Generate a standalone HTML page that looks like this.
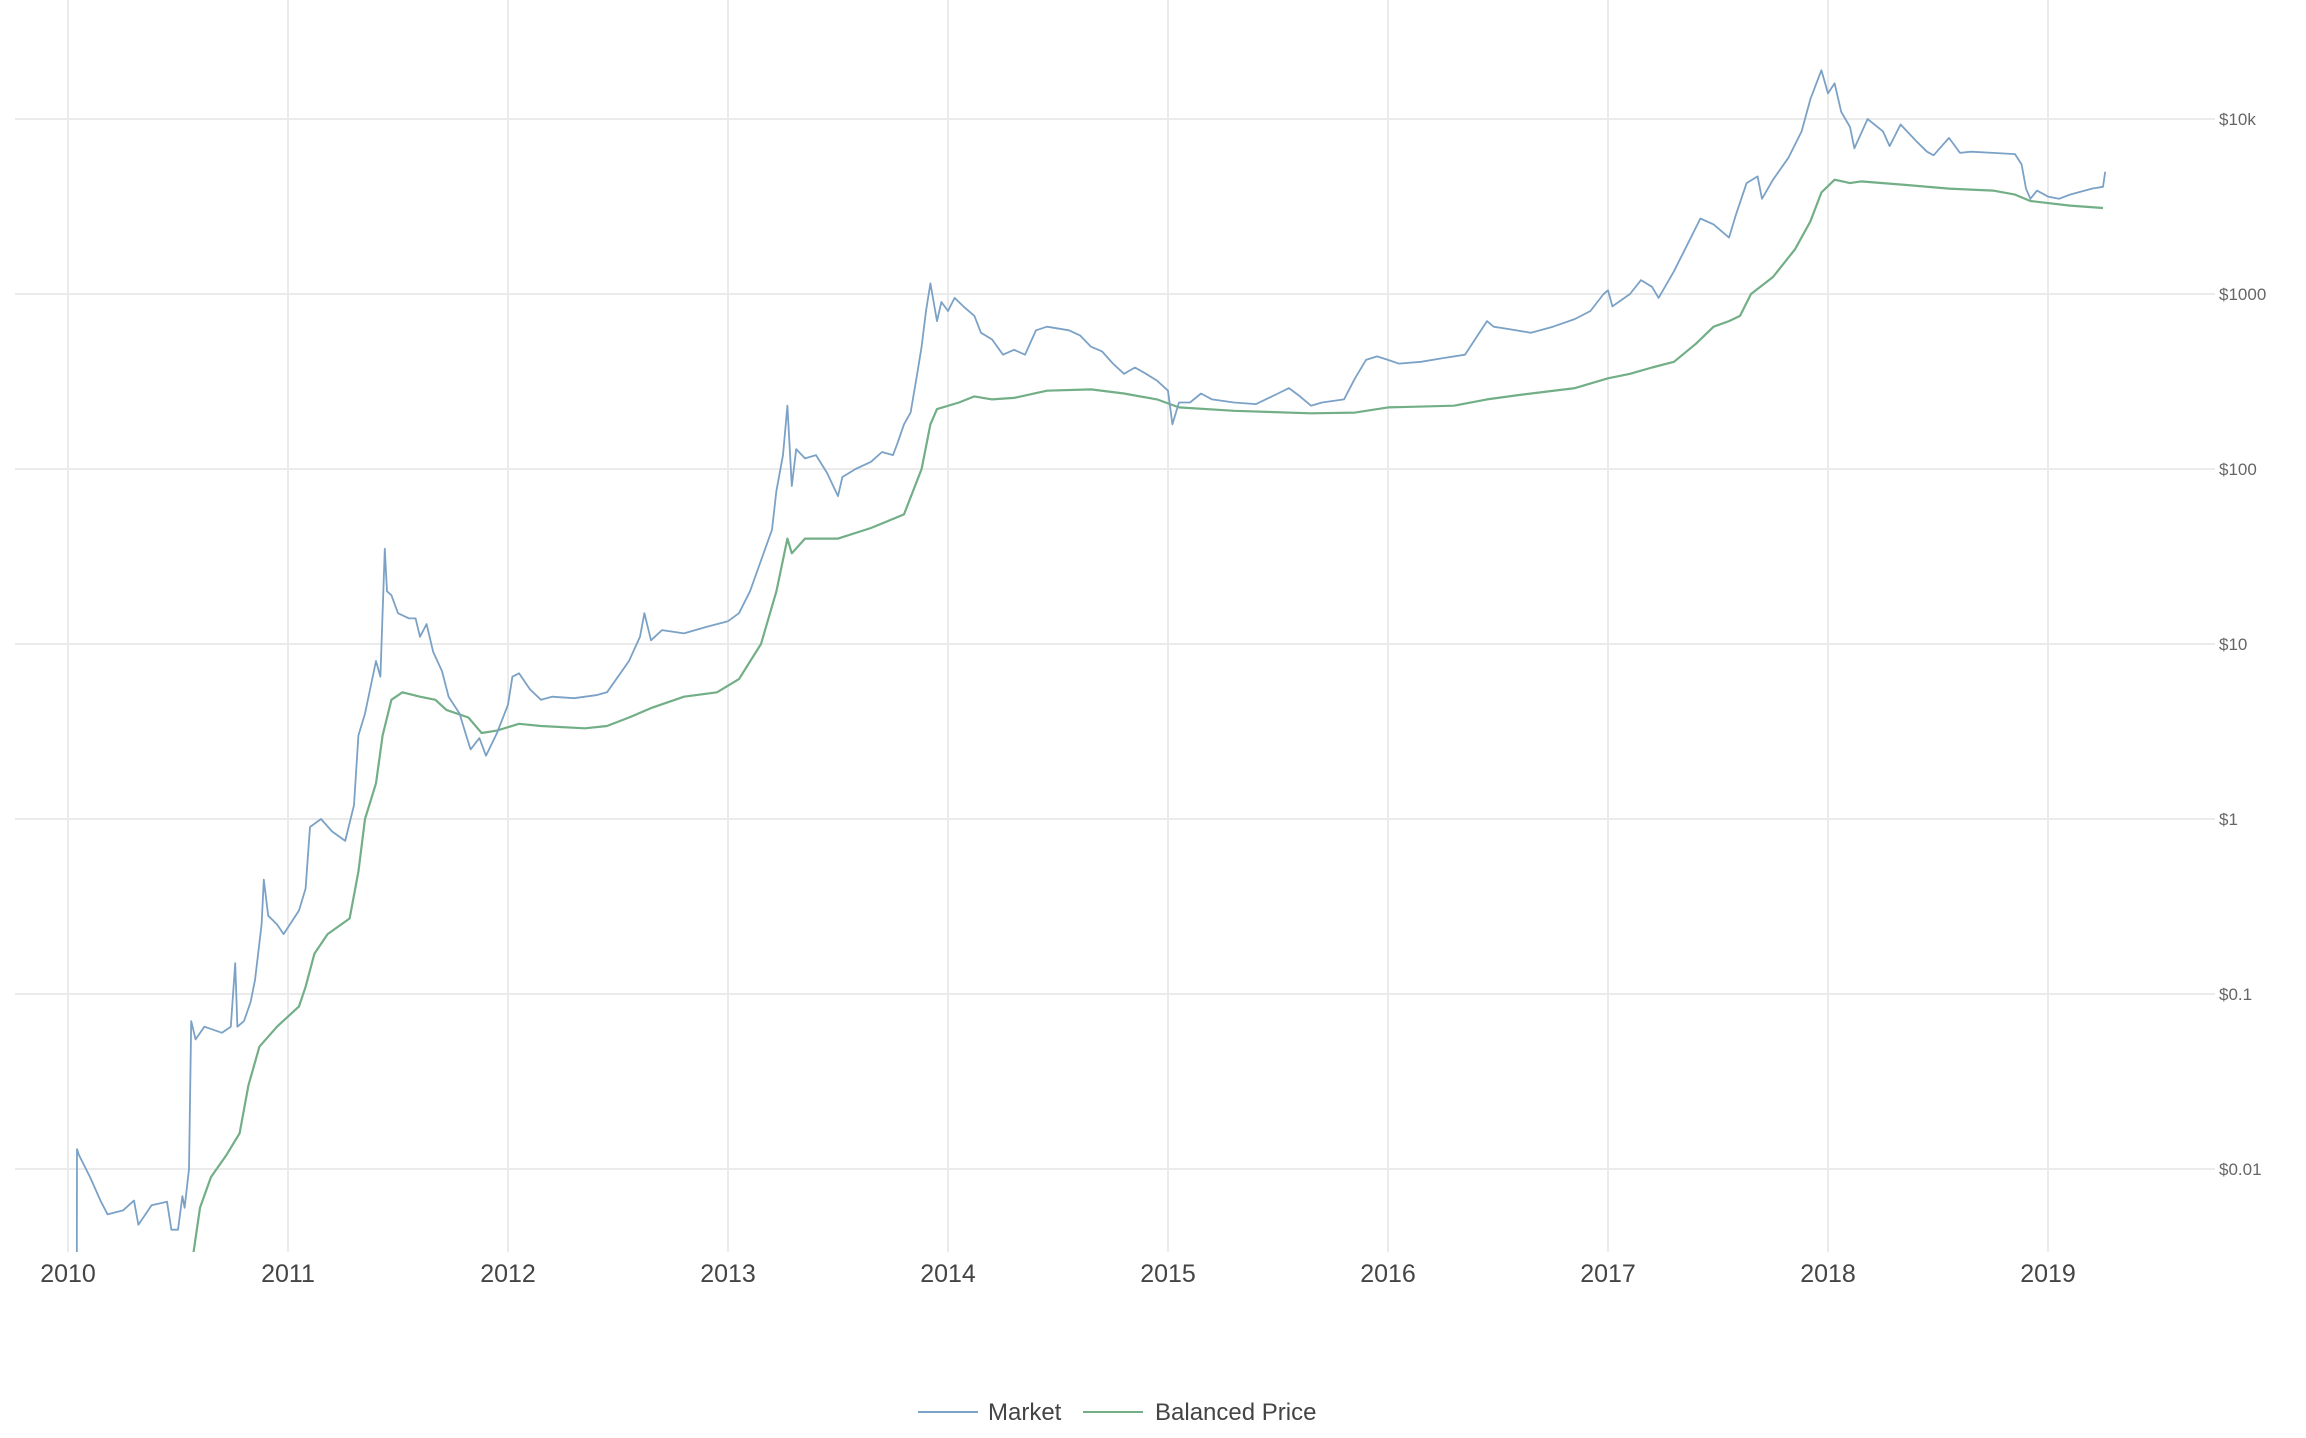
<!DOCTYPE html>
<html><head><meta charset="utf-8"><style>
html,body{margin:0;padding:0;background:#fff;width:2306px;height:1438px;overflow:hidden}
svg{display:block}
</style></head><body>
<svg id="chart" width="2306" height="1438" xmlns="http://www.w3.org/2000/svg">
<defs><clipPath id="plotclip"><rect x="0" y="0" width="2215" height="1252"/></clipPath></defs>
<g id="grid"></g>
<g id="series" clip-path="url(#plotclip)"></g>
<g id="xlabels"></g>
<g id="ylabels"></g>
<g font-family="Liberation Sans, sans-serif" font-size="24" fill="#444">
  <g>
    <line x1="918" y1="1412" x2="978" y2="1412" stroke="#7ba2c6" stroke-width="2"/>
    <text x="988" y="1420">Market</text>
  </g>
  <g>
    <line x1="1083" y1="1412" x2="1143" y2="1412" stroke="#72ae86" stroke-width="2"/>
    <text x="1155" y="1420">Balanced Price</text>
  </g>
</g>
</svg>
<script>
const yearTicks = [2010,2011,2012,2013,2014,2015,2016,2017,2018,2019];
const priceTicks = [0.01,0.1,1,10,100,1000,10000];
const priceTickLabels = ["$0.01","$0.1","$1","$10","$100","$1000","$10k"];
const marketDates = [2010.04,2010.041,2010.05,2010.10,2010.15,2010.18,2010.25,2010.30,2010.32,2010.38,2010.45,2010.47,2010.50,2010.52,2010.53,2010.55,2010.56,2010.58,2010.62,2010.70,2010.74,2010.76,2010.77,2010.80,2010.83,2010.85,2010.88,2010.89,2010.91,2010.95,2010.98,2011.05,2011.08,2011.10,2011.15,2011.20,2011.26,2011.30,2011.32,2011.35,2011.40,2011.42,2011.44,2011.45,2011.47,2011.50,2011.55,2011.58,2011.60,2011.63,2011.66,2011.70,2011.73,2011.78,2011.81,2011.83,2011.87,2011.90,2011.95,2012.0,2012.02,2012.05,2012.10,2012.15,2012.20,2012.30,2012.40,2012.45,2012.50,2012.55,2012.60,2012.62,2012.65,2012.70,2012.80,2012.90,2012.95,2013.0,2013.05,2013.1,2013.15,2013.2,2013.22,2013.25,2013.27,2013.29,2013.31,2013.35,2013.40,2013.45,2013.50,2013.52,2013.58,2013.65,2013.70,2013.75,2013.77,2013.80,2013.83,2013.86,2013.88,2013.90,2013.92,2013.95,2013.97,2014.0,2014.03,2014.07,2014.12,2014.15,2014.20,2014.25,2014.30,2014.35,2014.40,2014.45,2014.55,2014.60,2014.65,2014.70,2014.75,2014.80,2014.85,2014.90,2014.95,2015.0,2015.02,2015.05,2015.10,2015.15,2015.20,2015.30,2015.40,2015.50,2015.55,2015.60,2015.65,2015.70,2015.80,2015.85,2015.90,2015.95,2016.0,2016.05,2016.15,2016.25,2016.35,2016.45,2016.48,2016.55,2016.65,2016.75,2016.85,2016.92,2016.98,2017.0,2017.02,2017.10,2017.15,2017.20,2017.23,2017.30,2017.35,2017.42,2017.48,2017.55,2017.58,2017.63,2017.68,2017.70,2017.75,2017.82,2017.88,2017.92,2017.97,2018.0,2018.03,2018.06,2018.10,2018.12,2018.18,2018.25,2018.28,2018.33,2018.40,2018.45,2018.48,2018.55,2018.60,2018.65,2018.75,2018.85,2018.88,2018.90,2018.92,2018.95,2019.0,2019.05,2019.10,2019.20,2019.25,2019.26];
const marketValues = [0.0025,0.013,0.012,0.009,0.0065,0.0055,0.0058,0.0066,0.0048,0.0062,0.0065,0.0045,0.0045,0.007,0.006,0.01,0.07,0.055,0.065,0.06,0.065,0.15,0.065,0.07,0.09,0.12,0.25,0.45,0.28,0.25,0.22,0.3,0.4,0.9,1.0,0.85,0.75,1.2,3,4,8,6.5,35,20,19,15,14,14,11,13,9,7,5,4,3,2.5,2.9,2.3,3.1,4.5,6.5,6.8,5.5,4.8,5,4.9,5.1,5.3,6.5,8,11,15,10.5,12,11.5,12.5,13,13.5,15,20,30,45,75,120,230,80,130,115,120,95,70,90,100,110,125,120,140,180,210,350,500,800,1150,700,900,800,950,850,750,600,550,450,480,450,620,650,620,580,500,470,400,350,380,350,320,280,180,240,240,270,250,240,235,270,290,260,230,240,250,330,420,440,420,400,410,430,450,700,650,630,600,650,720,800,1000,1050,850,1000,1200,1100,950,1350,1800,2700,2500,2100,2800,4300,4700,3500,4500,6000,8500,13000,19000,14000,16000,11000,9000,6800,10000,8500,7000,9300,7500,6500,6200,7800,6400,6500,6400,6300,5500,4000,3500,3900,3600,3500,3700,4000,4100,5000];
const balancedDates = [2010.57,2010.60,2010.65,2010.72,2010.78,2010.82,2010.87,2010.95,2011.05,2011.08,2011.12,2011.18,2011.28,2011.32,2011.35,2011.40,2011.43,2011.47,2011.52,2011.60,2011.67,2011.72,2011.82,2011.88,2011.95,2012.05,2012.15,2012.35,2012.45,2012.55,2012.65,2012.80,2012.95,2013.05,2013.15,2013.22,2013.27,2013.29,2013.35,2013.50,2013.65,2013.80,2013.88,2013.92,2013.95,2014.05,2014.12,2014.20,2014.30,2014.45,2014.65,2014.80,2014.95,2015.05,2015.30,2015.65,2015.85,2016.0,2016.30,2016.45,2016.60,2016.85,2017.0,2017.10,2017.20,2017.30,2017.40,2017.48,2017.55,2017.60,2017.65,2017.75,2017.85,2017.92,2017.97,2018.03,2018.10,2018.15,2018.25,2018.35,2018.55,2018.75,2018.85,2018.92,2019.10,2019.25];
const balancedValues = [0.0033,0.006,0.009,0.012,0.016,0.03,0.05,0.065,0.085,0.11,0.17,0.22,0.27,0.5,1.0,1.6,3,4.8,5.3,5,4.8,4.2,3.8,3.1,3.2,3.5,3.4,3.3,3.4,3.8,4.3,5,5.3,6.3,10,20,40,33,40,40,46,55,100,180,220,240,260,250,255,280,285,270,250,225,215,208,210,225,230,250,265,290,330,350,380,410,520,650,700,750,1000,1250,1800,2600,3800,4500,4300,4400,4300,4200,4000,3900,3700,3400,3200,3100];

const NS='http://www.w3.org/2000/svg';
function xScale(yr){return 68+(yr-2010)*220;}
function yScale(v){return 119+(4-Math.log10(v))*175;}

const grid=document.getElementById('grid');
yearTicks.forEach(function(yr){
  const l=document.createElementNS(NS,'line');
  
  
  l.setAttribute('x1',xScale(yr));l.setAttribute('x2',xScale(yr));
  l.setAttribute('y1',0);l.setAttribute('y2',1252);
  l.setAttribute('stroke','#ebebeb');l.setAttribute('stroke-width','2');
  grid.appendChild(l);
  const t=document.createElementNS(NS,'text');
  
  
  t.setAttribute('x',xScale(yr));t.setAttribute('y',1282);
  t.setAttribute('text-anchor','middle');t.setAttribute('font-size','25');
  t.setAttribute('font-family','Liberation Sans, sans-serif');t.setAttribute('fill','#444');
  t.textContent=String(yr);
  document.getElementById('xlabels').appendChild(t);
});
priceTicks.forEach(function(v,i){
  const l=document.createElementNS(NS,'line');
  
  
  l.setAttribute('x1',15);l.setAttribute('x2',2215);
  l.setAttribute('y1',yScale(v));l.setAttribute('y2',yScale(v));
  l.setAttribute('stroke','#ebebeb');l.setAttribute('stroke-width','2');
  grid.appendChild(l);
  const t=document.createElementNS(NS,'text');
  
  
  t.setAttribute('x',2219);t.setAttribute('y',yScale(v)+6);
  t.setAttribute('font-size','17');
  t.setAttribute('font-family','Liberation Sans, sans-serif');t.setAttribute('fill','#666');
  t.textContent=priceTickLabels[i];
  document.getElementById('ylabels').appendChild(t);
});
function pathFrom(dates,vals){
  return dates.map(function(d,i){return (i?'L':'M')+xScale(d).toFixed(1)+' '+yScale(vals[i]).toFixed(1);}).join(' ');
}
const series=document.getElementById('series');
const bp=document.createElementNS(NS,'path');


bp.setAttribute('d',pathFrom(balancedDates,balancedValues));
bp.setAttribute('fill','none');bp.setAttribute('stroke','#72ae86');bp.setAttribute('stroke-width','2.2');
bp.setAttribute('stroke-linejoin','round');
series.appendChild(bp);
const mp=document.createElementNS(NS,'path');


mp.setAttribute('d',pathFrom(marketDates,marketValues));
mp.setAttribute('fill','none');mp.setAttribute('stroke','#7ba2c6');mp.setAttribute('stroke-width','1.8');
mp.setAttribute('stroke-linejoin','round');
series.appendChild(mp);
</script>
</body></html>
